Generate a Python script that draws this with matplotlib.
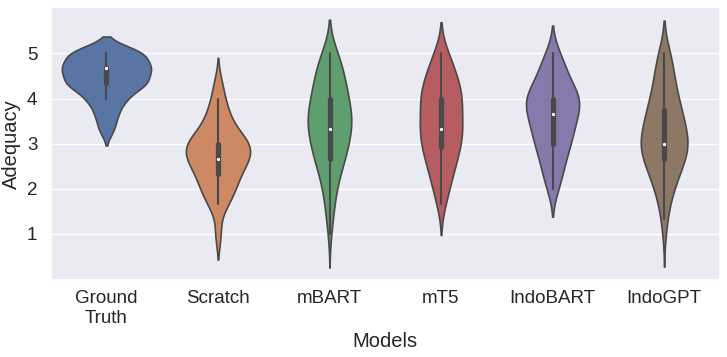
import numpy as np
import pandas as pd
import matplotlib
matplotlib.use("Agg")
import matplotlib.pyplot as plt
import seaborn as sns

# ratings are means of three annotators on a 1-5 scale
levels = [1.0, 4/3, 5/3, 2.0, 7/3, 8/3, 3.0, 10/3, 11/3, 4.0, 13/3, 14/3, 5.0]

models = ["Ground\nTruth", "Scratch", "mBART", "mT5", "IndoBART", "IndoGPT"]

# number of samples at each rating level (estimated from the violins)
gt_counts       = [0, 0, 0, 0, 0, 0, 0, 5, 7, 12, 25, 27, 24]
scratch_counts  = [3, 0, 7, 11, 13, 20, 22, 10, 7, 4, 3, 0, 0]
mbart_counts    = [1, 2, 3, 4, 6, 10, 11, 14, 14, 11, 10, 8, 6]
mt5_counts      = [0, 0, 3, 5, 7, 10, 12, 14, 11, 14, 11, 8, 5]
indobart_counts = [0, 0, 0, 4, 6, 8, 11, 13, 15, 19, 11, 8, 5]
indogpt_counts  = [1, 2, 3, 6, 9, 13, 17, 12, 12, 8, 7, 5, 5]

all_counts = [gt_counts, scratch_counts, mbart_counts,
              mt5_counts, indobart_counts, indogpt_counts]

rows = []
for name, counts in zip(models, all_counts):
    for lvl, c in zip(levels, counts):
        rows += [(name, lvl)] * c
df = pd.DataFrame(rows, columns=["model", "score"])

sns.set_theme(style="darkgrid")
plt.rcParams["font.family"] = ["Liberation Sans", "DejaVu Sans"]

fig = plt.figure(figsize=(7.27, 3.57), dpi=100)
ax = fig.add_axes([0.0697, 0.2157, 0.9205, 0.7638])

sns.violinplot(data=df, x="model", y="score", hue="model", order=models,
               hue_order=models, palette="deep", legend=False,
               common_norm=True, linewidth=1.2,
               inner_kws=dict(box_width=3.8, whis_width=1.5, marker="."),
               ax=ax)

ax.xaxis.grid(False)
ax.set_yticks([1, 2, 3, 4, 5])
ax.tick_params(labelsize=13.5)
ax.tick_params(axis="x", pad=1.3)
ax.set_xlabel("Models", fontsize=14.5)
ax.set_ylabel("Adequacy", fontsize=14.5)

fig.savefig("out.png", dpi=100)
